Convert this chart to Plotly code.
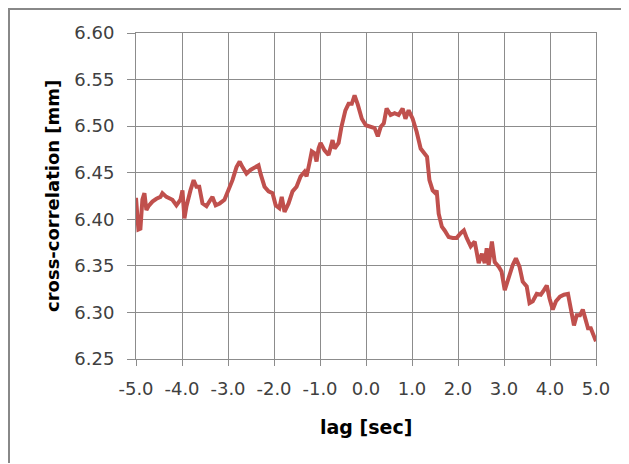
import plotly.graph_objects as go

lag = [-5.000, -4.948, -4.904, -4.861, -4.817, -4.774, -4.730, -4.643, -4.556, -4.469,
       -4.426, -4.339, -4.208, -4.121, -4.034, -3.990, -3.947, -3.903, -3.816, -3.747,
       -3.686, -3.625, -3.555, -3.468, -3.381, -3.338, -3.268, -3.181, -3.077, -2.990,
       -2.903, -2.815, -2.746, -2.685, -2.598, -2.511, -2.424, -2.337, -2.293, -2.206,
       -2.119, -2.032, -1.963, -1.884, -1.832, -1.771, -1.684, -1.597, -1.510, -1.423,
       -1.336, -1.292, -1.231, -1.179, -1.118, -1.075, -1.031, -0.988, -0.901, -0.814,
       -0.727, -0.683, -0.596, -0.535, -0.448, -0.379, -0.309, -0.248, -0.178, -0.091,
       -0.004, 0.100, 0.187, 0.257, 0.318, 0.387, 0.448, 0.535, 0.622, 0.709,
       0.796, 0.857, 0.927, 1.014, 1.101, 1.188, 1.275, 1.327, 1.379, 1.449,
       1.510, 1.536, 1.580, 1.649, 1.710, 1.797, 1.884, 1.971, 2.058, 2.128,
       2.189, 2.276, 2.363, 2.450, 2.520, 2.581, 2.624, 2.667, 2.737, 2.798,
       2.885, 2.946, 3.016, 3.085, 3.129, 3.190, 3.259, 3.338, 3.407, 3.494,
       3.555, 3.625, 3.712, 3.799, 3.869, 3.930, 3.990, 4.060, 4.130, 4.217,
       4.304, 4.391, 4.452, 4.521, 4.582, 4.652, 4.713, 4.774, 4.826, 4.887,
       4.948, 5.000]

xcorr = [6.423, 6.389, 6.390, 6.421, 6.428, 6.410, 6.414, 6.419, 6.422, 6.424,
         6.428, 6.424, 6.421, 6.415, 6.421, 6.431, 6.401, 6.414, 6.431, 6.442,
         6.435, 6.435, 6.417, 6.414, 6.421, 6.424, 6.415, 6.417, 6.421, 6.431,
         6.442, 6.456, 6.462, 6.456, 6.449, 6.453, 6.455, 6.458, 6.449, 6.435,
         6.430, 6.428, 6.415, 6.412, 6.424, 6.408, 6.417, 6.430, 6.435, 6.446,
         6.451, 6.446, 6.460, 6.473, 6.471, 6.462, 6.476, 6.482, 6.474, 6.469,
         6.485, 6.476, 6.482, 6.499, 6.517, 6.524, 6.524, 6.533, 6.523, 6.508,
         6.501, 6.499, 6.498, 6.489, 6.499, 6.503, 6.519, 6.512, 6.514, 6.512,
         6.519, 6.508, 6.517, 6.508, 6.494, 6.476, 6.471, 6.467, 6.442, 6.431,
         6.428, 6.431, 6.406, 6.392, 6.388, 6.381, 6.380, 6.380, 6.385, 6.388,
         6.380, 6.371, 6.376, 6.353, 6.363, 6.353, 6.369, 6.351, 6.376, 6.354,
         6.349, 6.344, 6.324, 6.335, 6.344, 6.351, 6.358, 6.349, 6.333, 6.328,
         6.310, 6.312, 6.320, 6.319, 6.324, 6.329, 6.315, 6.303, 6.312, 6.317,
         6.319, 6.320, 6.304, 6.286, 6.297, 6.297, 6.303, 6.292, 6.283, 6.283,
         6.276, 6.269]

x_ticks = [-5, -4, -3, -2, -1, 0, 1, 2, 3, 4, 5]
x_tick_text = ["-5.0", "-4.0", "-3.0", "-2.0", "-1.0", "0.0", "1.0", "2.0", "3.0", "4.0", "5.0"]
y_ticks = [6.25, 6.30, 6.35, 6.40, 6.45, 6.50, 6.55, 6.60]
y_tick_text = ["6.25", "6.30", "6.35", "6.40", "6.45", "6.50", "6.55", "6.60"]
x_title = "lag [sec]"
y_title = "cross-correlation [mm]"

GRID = "#8c8c8c"
FONT = "DejaVu Sans, sans-serif"
OFF = 8  # page body margin
FW, FH = 629 - OFF, 464 - OFF
# target plot-area edges in page pixels
L, R, T, B = 136, 596, 33, 359
W, H = R - L, B - T


def px(page_x):
    return (page_x - L) / W


def py(page_y):
    return (B - page_y) / H


fig = go.Figure()
fig.add_trace(go.Scatter(x=lag, y=xcorr, mode="lines",
                         line=dict(color="#C0504D", width=4), showlegend=False))

fig.update_layout(
    width=FW, height=FH,
    margin=dict(l=L - OFF, r=FW - (R - OFF), t=T - OFF, b=FH - (B - OFF), autoexpand=False),
    paper_bgcolor="white", plot_bgcolor="white",
    font=dict(family=FONT, color="#404040"),
    xaxis=dict(range=[-5, 5], tickvals=x_ticks, ticktext=x_tick_text,
               showgrid=True, gridcolor=GRID, gridwidth=1,
               showline=True, linecolor=GRID, mirror=True,
               ticks="outside", ticklen=6, tickcolor=GRID,
               ticklabelstandoff=7,
               tickfont=dict(size=18, color="#404040"),
               zeroline=False, automargin=False),
    yaxis=dict(range=[6.25, 6.60], tickvals=y_ticks, ticktext=y_tick_text,
               showgrid=True, gridcolor=GRID, gridwidth=1,
               showline=True, linecolor=GRID, mirror=True,
               ticks="outside", ticklen=8, tickcolor=GRID,
               ticklabelstandoff=9,
               tickfont=dict(size=18, color="#404040"),
               zeroline=False, automargin=False),
)

fig.add_annotation(text="<b>" + x_title + "</b>", xref="paper", yref="paper",
                   x=px(366), y=py(427), showarrow=False,
                   xanchor="center", yanchor="middle",
                   font=dict(family=FONT, size=19, color="#000000"))
fig.add_annotation(text="<b>" + y_title + "</b>", xref="paper", yref="paper",
                   x=px(52), y=py(196), showarrow=False, textangle=-90,
                   xanchor="center", yanchor="middle",
                   font=dict(family=FONT, size=18, color="#000000"))

# outer chart border (left and top edges visible in the reference), as thin filled strips
fig.add_shape(type="rect", xref="paper", yref="paper",
              x0=px(8), x1=px(628), y0=py(10), y1=py(8),
              line=dict(width=0), fillcolor="#888888", layer="above")
fig.add_shape(type="rect", xref="paper", yref="paper",
              x0=px(8), x1=px(10), y0=py(463), y1=py(8),
              line=dict(width=0), fillcolor="#888888", layer="above")

fig.write_html("out.html")
